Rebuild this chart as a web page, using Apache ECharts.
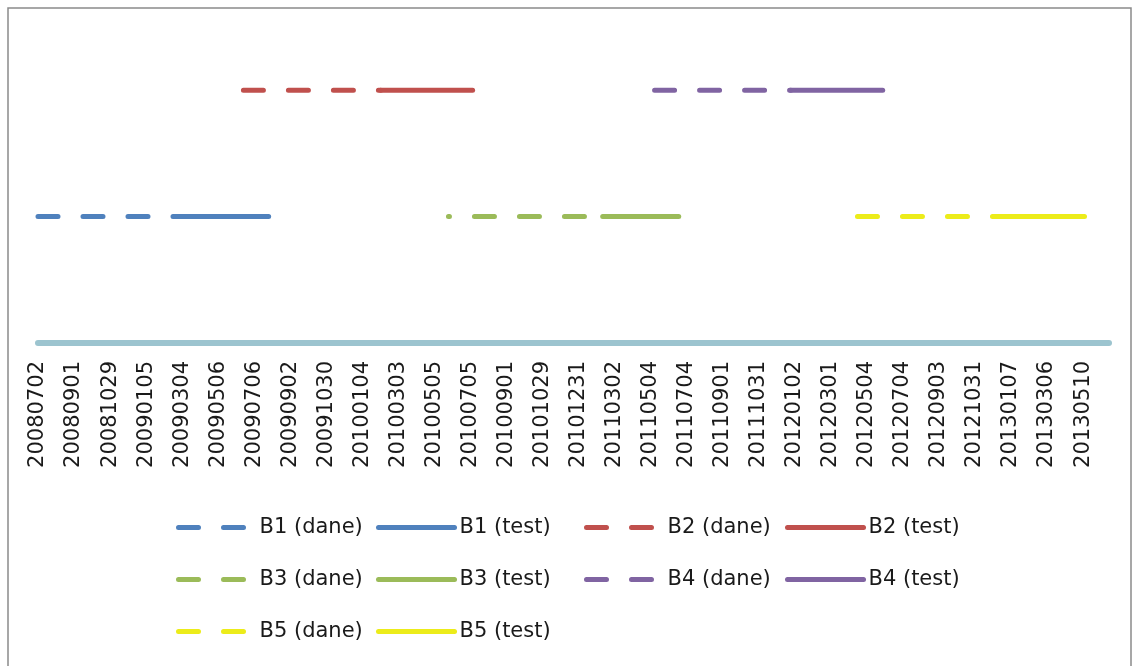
<!DOCTYPE html>
<html>
<head>
<meta charset="utf-8">
<script src="https://cdn.jsdelivr.net/npm/echarts@6/dist/echarts.min.js"></script>
<style>
  html, body { margin: 0; padding: 0; background: #ffffff; }
  #chart { width: 1134px; height: 666px; }
</style>
</head>
<body>
<div id="chart"></div>
<script>
// Category labels along the time axis (one every ~2 months of trading days)
const dates = ['20080702','20080901','20081029','20090105','20090304','20090506','20090706',
  '20090902','20091030','20100104','20100303','20100505','20100705','20100901','20101029',
  '20101231','20110302','20110504','20110704','20110901','20111031','20120102','20120301',
  '20120504','20120704','20120903','20121031','20130107','20130306','20130510'];

// Each window: [position on the label scale, level]
const b1Dane = [[0, 1], [3.79, 1]];
const b1Test = [[3.79, 1], [6.40, 1]];
const b2Dane = [[5.70, 2], [9.51, 2]];
const b2Test = [[9.51, 2], [12.06, 2]];
const b3Dane = [[11.39, 1], [15.67, 1]];
const b3Test = [[15.67, 1], [17.78, 1]];
const b4Dane = [[17.11, 2], [20.89, 2]];
const b4Test = [[20.89, 2], [23.44, 2]];
const b5Dane = [[22.74, 1], [26.66, 1]];
const b5Test = [[26.66, 1], [29.04, 1]];

const seriesNames = ['B1 (dane)','B1 (test)','B2 (dane)','B2 (test)','B3 (dane)','B3 (test)',
  'B4 (dane)','B4 (test)','B5 (dane)','B5 (test)'];
const seriesData = [b1Dane, b1Test, b2Dane, b2Test, b3Dane, b3Test, b4Dane, b4Test, b5Dane, b5Test];
const colors = ['#4F81BD','#4F81BD','#C0504D','#C0504D','#9BBB59','#9BBB59',
  '#8064A2','#8064A2','#ECEC1A','#ECEC1A'];
const dashOffsets = [0,0,0,0,19,0,0,0,0,0];

const FONT = 'DejaVu Sans';
const chart = echarts.init(document.getElementById('chart'), null, { renderer: 'canvas' });

const series = seriesNames.map((name, i) => ({
  name: name,
  type: 'line',
  data: seriesData[i],
  symbol: 'none',
  showSymbol: false,
  silent: true,
  color: colors[i],
  lineStyle: {
    color: colors[i],
    width: 5,
    cap: 'round',
    type: name.indexOf('dane') >= 0 ? [20, 25] : 'solid',
    dashOffset: dashOffsets[i]
  }
}));

function legendColumn(names, left) {
  return {
    data: names,
    orient: 'vertical',
    left: left,
    top: 512,
    itemWidth: 76,
    itemHeight: 21,
    itemGap: 31,
    selectedMode: false,
    itemStyle: { opacity: 0 },
    lineStyle: { width: 5, cap: 'round', dashOffset: 0 },
    textStyle: { fontFamily: FONT, fontSize: 21, color: '#1a1a1a', padding: 0 }
  };
}

chart.setOption({
  animation: false,
  backgroundColor: '#ffffff',
  grid: { left: 38, right: 25, top: 27, bottom: 323, containLabel: false },
  xAxis: {
    type: 'value',
    min: 0,
    max: 29.72,
    interval: 1,
    axisLine: { show: true, onZero: false, lineStyle: { color: '#9CC4CF', width: 6 } },
    axisTick: { show: false },
    splitLine: { show: false },
    axisLabel: {
      rotate: 90,
      margin: 18,
      fontFamily: FONT,
      fontSize: 21,
      color: '#1a1a1a',
      showMaxLabel: false,
      formatter: v => (Number.isInteger(v) && dates[v]) ? dates[v] : ''
    }
  },
  yAxis: { type: 'value', min: 0, max: 2.5, show: false },
  legend: [
    legendColumn(['B1 (dane)','B3 (dane)','B5 (dane)'], 171),
    legendColumn(['B1 (test)','B3 (test)','B5 (test)'], 371),
    legendColumn(['B2 (dane)','B4 (dane)'], 579),
    legendColumn(['B2 (test)','B4 (test)'], 780)
  ],
  graphic: [{
    type: 'rect',
    shape: { x: 8, y: 8, width: 1123, height: 670 },
    style: { fill: 'none', stroke: '#8a8a8a', lineWidth: 1.5 },
    silent: true,
    z: 100
  }],
  series: series
});
</script>
</body>
</html>
